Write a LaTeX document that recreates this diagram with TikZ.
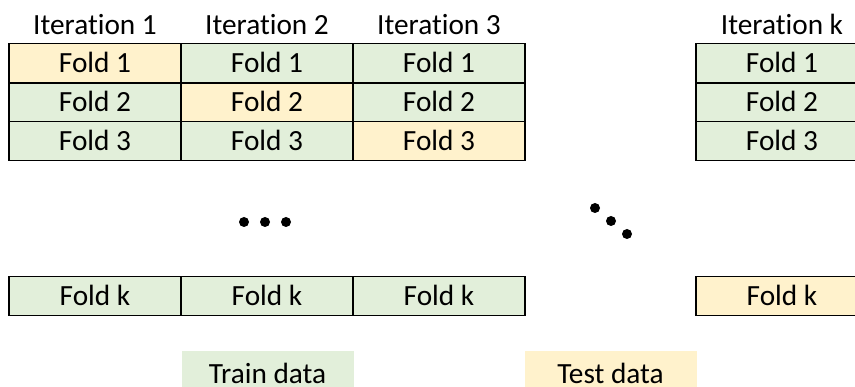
\documentclass[tikz,border=0pt]{standalone}
\usepackage{fontspec}
\setmainfont{Carlito}[Ligatures=NoCommon]
\usepackage{tikz}

\definecolor{traingreen}{HTML}{E2EFDA}
\definecolor{testorange}{HTML}{FFF2CC}

\tikzset{
  cell/.style={rectangle, minimum width=172pt, minimum height=39pt,
               inner sep=0pt, text height=18.5pt, text depth=0pt,
               font=\fontsize{29.3}{33}\selectfont},
  train/.style={cell, draw, line width=1.5pt, fill=traingreen},
  test/.style={cell, draw, line width=1.5pt, fill=testorange},
  legendbox/.style={cell, minimum height=46pt},
  iterlabel/.style={anchor=base, inner sep=0pt, font=\fontsize{29.3}{33}\selectfont}
}

\begin{document}
\begin{tikzpicture}[x=1pt, y=-1pt]
            \useasboundingbox (0,0) rectangle (855,387);
            \clip (0,0) rectangle (855,387);
            % Ueberschriften
            \path (95, 35) node[iterlabel] (it1) {Iteration 1}
                  (267, 35) node[iterlabel] (it2) {Iteration 2}
                  (439, 35) node[iterlabel] (it3) {Iteration 3}
                  (782, 35) node[iterlabel] (itk) {Iteration k};
            % Iteration 1
            \path (95, 63) node[test] (a1) {Fold 1}
                  (95, 102.5) node[train] (a2) {Fold 2}
                  (95, 141) node[train] (a3) {Fold 3}
                  (95, 296) node[train] (ak) {Fold k};
            % Iteration 2
            \path (267, 63) node[train] (b1) {Fold 1}
                  (267, 102.5) node[test] (b2) {Fold 2}
                  (267, 141) node[train] (b3) {Fold 3}
                  (267, 296) node[train] (bk) {Fold k};
            % Iteration 3
            \path (439, 63) node[train] (c1) {Fold 1}
                  (439, 102.5) node[train] (c2) {Fold 2}
                  (439, 141) node[test] (c3) {Fold 3}
                  (439, 296) node[train] (ck) {Fold k};
            % Iteration k
            \path (782, 63) node[train] (k1) {Fold 1}
                  (782, 102.5) node[train] (k2) {Fold 2}
                  (782, 141) node[train] (k3) {Fold 3}
                  (782, 296) node[test] (kk) {Fold k};
            % Punkte
            \fill (244, 222) circle (5) (265, 222) circle (5) (286, 222) circle (5);
            \fill (595, 208) circle (5) (611, 221) circle (5) (627, 234) circle (5);
            % Legende
            \path (267.5, 374) node[legendbox, fill=traingreen] (train) {Train data}
                  (610.5, 374) node[legendbox, fill=testorange] (test) {Test data};
\end{tikzpicture}
\end{document}
